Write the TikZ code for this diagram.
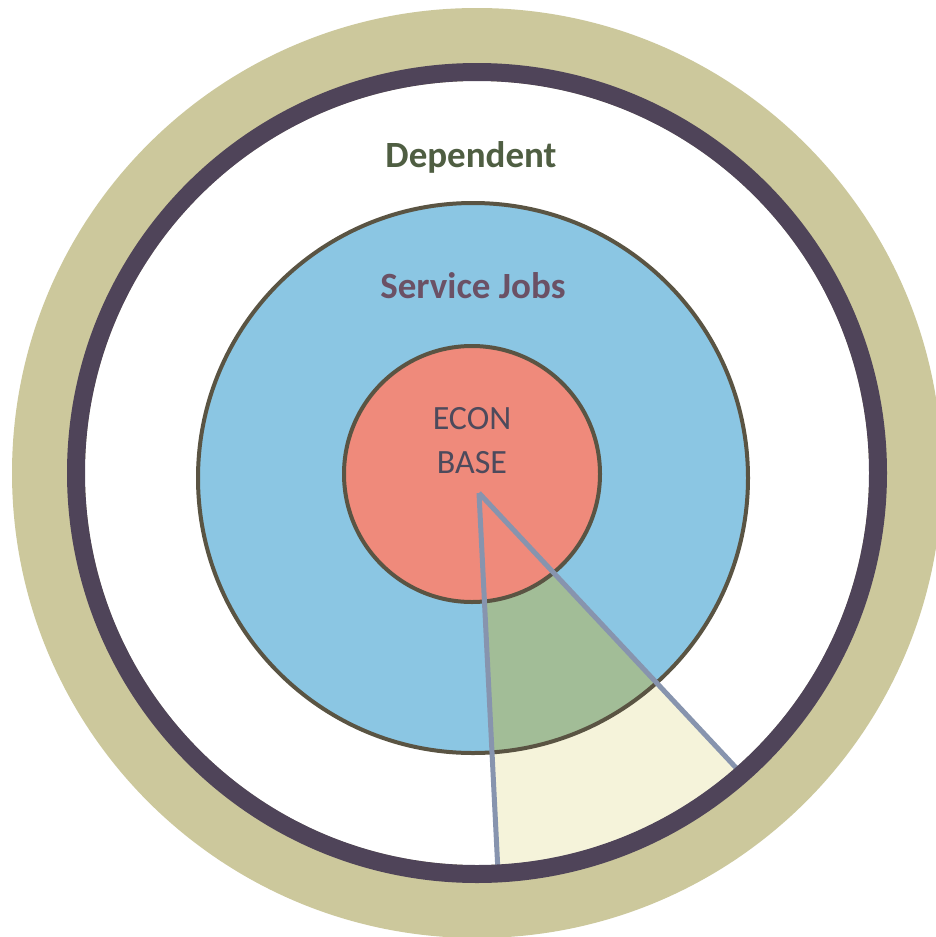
\documentclass[tikz,border=0pt]{standalone}
\usepackage{fontspec}
\setmainfont{Carlito}
\definecolor{bandtan}{HTML}{CCC89C}
\definecolor{banddark}{HTML}{4F4459}
\definecolor{jobblue}{HTML}{8BC6E3}
\definecolor{basered}{HTML}{EF8A7B}
\definecolor{wedgecream}{HTML}{F5F3DA}
\definecolor{wedgegreen}{HTML}{A2BD97}
\definecolor{rimbrown}{HTML}{5A5443}
\definecolor{wedgeline}{HTML}{8794AE}
\definecolor{depgreen}{HTML}{4F5E42}
\definecolor{jobtext}{HTML}{6B5165}
\definecolor{basetext}{HTML}{4D4A5C}

\begin{document}
\begin{tikzpicture}[x=1pt,y=-1pt,
    rim/.style={draw=rimbrown, line width=4pt},
    wedgeedge/.style={draw=wedgeline, line width=5pt},
    band/.style={draw=banddark, line width=18pt},
    bigtext/.style={font=\fontsize{37}{44}\selectfont\bfseries, inner sep=0pt, anchor=base},
    basetxt/.style={font=\fontsize{34}{40}\selectfont, text=basetext, inner sep=0pt, anchor=base}]
      \useasboundingbox (0,0) rectangle (936,937);
      \fill[white] (0,0) rectangle (936,937);
      \clip (0,0) rectangle (936,937);
      \coordinate (c) at (477,473);
      \coordinate (cb) at (473,478);
      \coordinate (cr) at (472,474);
      \coordinate (apex) at (479,493);
      \coordinate (w1) at (498,872);
      \coordinate (w2) at (740,772);
      \coordinate (f1) at (501,932);
      \coordinate (f2) at (818,856);
      % outer band and white field
      \fill[bandtan] (c) circle (465pt);
      \fill[white] (c) circle (392pt);
      \begin{scope}
	\clip (c) circle (392pt);
	\fill[wedgecream] (apex) -- (f1) -- (f2) -- cycle;
      \end{scope}
      % service jobs
      \fill[jobblue] (cb) circle (275pt);
      \begin{scope}
	\clip (cb) circle (275pt);
	\fill[wedgegreen] (apex) -- (f1) -- (f2) -- cycle;
      \end{scope}
      \draw[rim] (cb) circle (275pt);
      % econ base
      \draw[rim, fill=basered] (cr) circle (128pt);
      \foreach \j in {w1, w2} {
	\draw[wedgeedge] (apex) -- (\j);
      };
      \draw[band] (c) circle (401pt);
      \node[bigtext, text=depgreen] (dep) at (471,167) {Dependent};
      \node[bigtext, text=jobtext] (jobs) at (473,298) {Service Jobs};
      \node[basetxt] (econ) at (472,429) {ECON};
      \node[basetxt] (base) at (472,473) {BASE};
    \end{tikzpicture}
\end{document}
